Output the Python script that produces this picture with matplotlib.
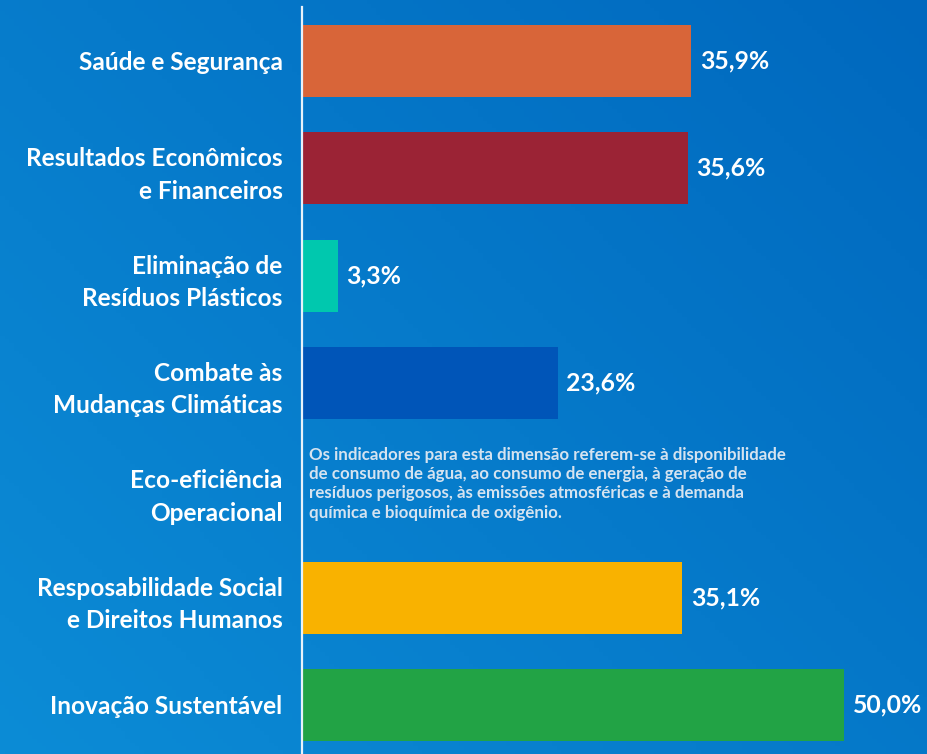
import matplotlib.pyplot as plt
import numpy as np

categories = [
    "Saúde e Segurança",
    "Resultados Econômicos\ne Financeiros",
    "Eliminação de\nResíduos Plásticos",
    "Combate às\nMudanças Climáticas",
    "Eco-eficiência\nOperacional",
    "Resposabilidade Social\ne Direitos Humanos",
    "Inovação Sustentável",
]
values = [35.9, 35.6, 3.3, 23.6, np.nan, 35.1, 50.0]
bar_colors = ["#D86539", "#9B2335", "#00C8AE", "#0055B8", "#0055B8", "#F9B200", "#22A345"]
note = ("Os indicadores para esta dimensão referem-se à disponibilidade\n"
        "de consumo de água, ao consumo de energia, à geração de\n"
        "resíduos perigosos, às emissões atmosféricas e à demanda\n"
        "química e bioquímica de oxigênio.")

plt.rcParams['font.family'] = ['Lato', 'DejaVu Sans']

fig = plt.figure(figsize=(9.28, 7.54), dpi=100)

# fundo em degradê azul
bg = fig.add_axes([0, 0, 1, 1])
yy, xx = np.mgrid[0:1:200j, 0:1:200j]
t = np.clip(0.55 * xx + 0.45 * (1 - yy), 0, 1)
c0 = np.array([0x0C, 0x8C, 0xD6]) / 255
c1 = np.array([0x00, 0x68, 0xBE]) / 255
img = c0[None, None, :] * (1 - t[..., None]) + c1[None, None, :] * t[..., None]
bg.imshow(img, extent=[0, 1, 0, 1], aspect='auto', origin='upper')
bg.axis('off')

ax = fig.add_axes([302 / 928, 0, (928 - 302) / 928, 747 / 754])
ax.patch.set_alpha(0)

y = np.arange(len(categories))
ax.barh(y, np.nan_to_num(values), height=0.67, color=bar_colors, zorder=2)

for i, v in enumerate(values):
    if np.isnan(v):
        continue
    ax.text(v + 0.8, i, f"{v:.1f}%".replace('.', ','), va='center', ha='left',
            color='white', fontsize=17.8, fontweight='bold')

ax.text(0.65, 3.94, note, va='center', ha='left', color='#D5E3F0', fontsize=12.2,
        fontweight='bold', linespacing=1.24)

ax.set_ylim(6.457, -0.503)
ax.set_xlim(0, 57.75)
ax.set_yticks(y)
ax.set_yticklabels(categories, color='white', fontsize=17.6, fontweight='bold',
                   linespacing=1.5)
ax.tick_params(axis='y', length=0, pad=14)
ax.set_xticks([])
for s in ['top', 'right', 'bottom']:
    ax.spines[s].set_visible(False)
ax.spines['left'].set_color('#E8F2FA')
ax.spines['left'].set_linewidth(1.6)

fig.savefig('out.png', dpi=100)
